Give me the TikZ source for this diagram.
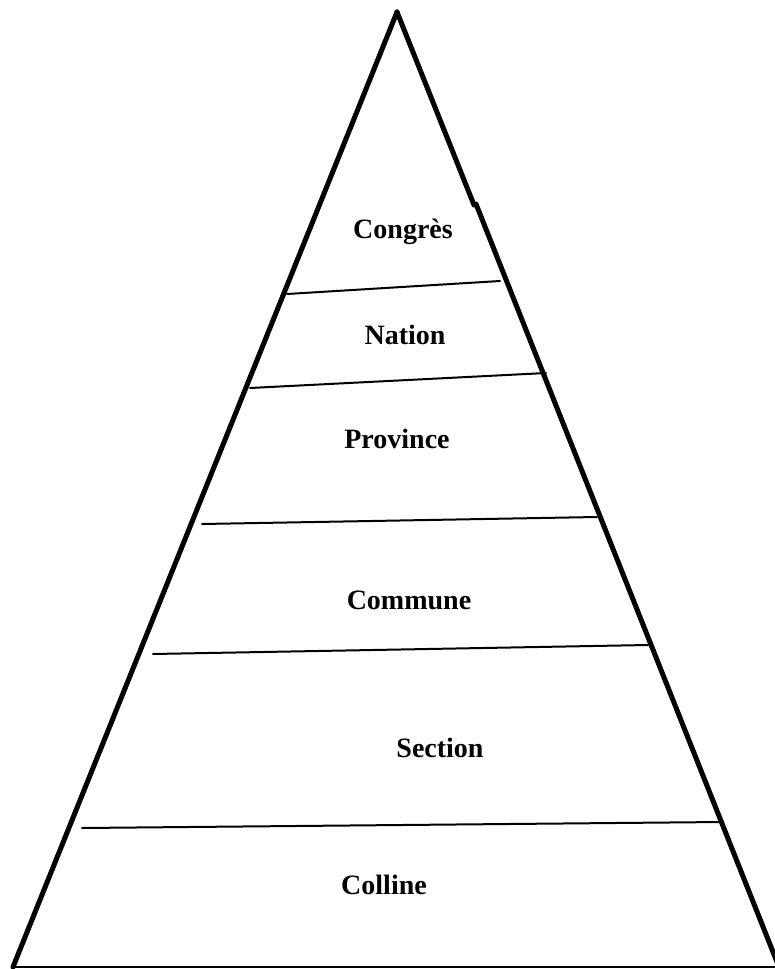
\documentclass[tikz,border=0pt]{standalone}
\usepackage{fontspec}
\setmainfont{Liberation Serif}
\usepackage{tikz}

\tikzset{
	level/.style={font=\fontsize{28}{30}\selectfont\bfseries},
	side/.style={line width=5pt},
	cut/.style={line width=2pt}
}

\begin{document}
\begin{tikzpicture}[line cap=round,line join=round,x=1pt,y=-1pt]
	\useasboundingbox (0,0) rectangle (775,969);
	\coordinate (top) at (397,12);
	\coordinate (bl) at (13,967);
	\coordinate (br) at (777,962);
	% sides of the pyramid
	\draw[side] (top) -- (bl);
	\draw[side] (top) -- (474,205);
	\draw[side] (476,204) -- (br);
	\draw[line width=1.8pt] (bl) -- (775,967);
	% cuts between the levels
	\draw[cut] (287,294) -- (500,281);
	\draw[cut] (250,388) -- (546,373);
	\draw[cut] (202,524) -- (597,517);
	\draw[cut] (153,654) -- (648,645);
	\draw[cut] (82,828) -- (722,822);
	% levels
	\node[level] (congres) at (403,232) {Congrès};
	\node[level] (nation) at (405,335) {Nation};
	\node[level] (province) at (397,439) {Province};
	\node[level] (commune) at (409,600) {Commune};
	\node[level] (section) at (440,748) {Section};
	\node[level] (colline) at (384,885) {Colline};
\end{tikzpicture}
\end{document}
